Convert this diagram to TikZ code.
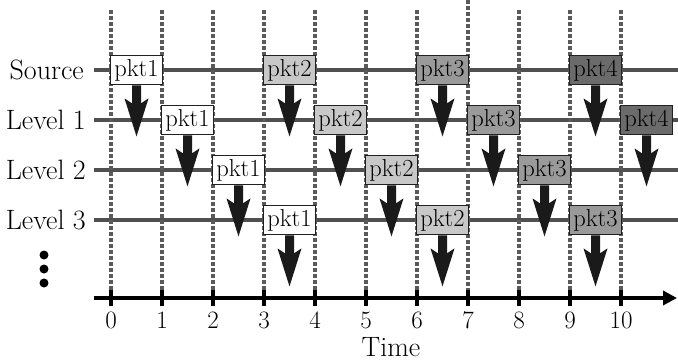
\documentclass[tikz,border=0pt]{standalone}
\usetikzlibrary{arrows.meta}
\definecolor{rowgray}{HTML}{505050}
\definecolor{dotgray}{HTML}{5A5A5A}
\definecolor{boxedge}{HTML}{202020}
\definecolor{fillA}{HTML}{FFFFFF}
\definecolor{fillB}{HTML}{C8C8C8}
\definecolor{fillC}{HTML}{9A9A9A}
\definecolor{fillD}{HTML}{6B6B6B}
\definecolor{arrowfill}{HTML}{1A1A1A}
\begin{document}
\begin{tikzpicture}[x=1pt,y=1pt,
  rowline/.style={draw=rowgray,line width=4pt},
  gridline/.style={draw=dotgray,line width=4pt,dash pattern=on 3.5pt off 2.5pt},
  pktbox/.style={draw=boxedge,line width=1.8pt,minimum width=52pt,minimum height=29pt,inner sep=0pt,font=\fontsize{24.5}{28}\selectfont},
  lbl/.style={font=\fontsize{28}{32}\selectfont,inner sep=0pt},
  ticklbl/.style={font=\fontsize{25}{29}\selectfont,inner sep=0pt},
  axisline/.style={draw=black,line width=4pt,-{Triangle[length=14pt,width=14pt]}},
  tickmark/.style={draw=black,line width=4pt},
  bigarrow/.style={fill=arrowfill}]
\useasboundingbox (0,0) rectangle (678,-364);
% row labels
\node[lbl,anchor=east] (lsrc) at (84,-70) {Source};
\node[lbl,anchor=east] (l1) at (86,-120) {Level 1};
\node[lbl,anchor=east] (l2) at (86,-170) {Level 2};
\node[lbl,anchor=east] (l3) at (86,-220) {Level 3};
% row lines
\foreach \r in {0,1,2,3}{
  \coordinate (rs\r) at (94,{-70-50*\r});
  \coordinate (re\r) at (678,{-70-50*\r});
  \draw[rowline] (rs\r) -- (re\r);
}
% dotted time lines
\foreach \t in {0,1,2,3,4,5,6,8,9,10}{
  \coordinate (gt\t) at ({111+51*\t},-10);
  \coordinate (gb\t) at ({111+51*\t},-292);
  \draw[gridline] (gt\t) -- (gb\t);
}
\coordinate (gt7) at (468,0);
\coordinate (gb7) at (468,-292);
\draw[gridline] (gt7) -- (gb7);
% axis
\coordinate (ax0) at (94,-298);
\coordinate (ax1) at (677,-298);
\draw[axisline] (ax0) -- (ax1);
\foreach \t in {0,...,10}{
  \coordinate (tt\t) at ({111+51*\t},-290);
  \coordinate (tb\t) at ({111+51*\t},-306);
  \draw[tickmark] (tt\t) -- (tb\t);
  \node[ticklbl] (tl\t) at ({111+51*\t},-320) {\t};
}
\node[lbl] (time) at (391,-347) {Time};
% vertical dots
\fill (44,-255) circle (4.5);
\fill (44,-269) circle (4.5);
\fill (44,-283) circle (4.5);
% packets and arrows
\foreach \n/\r/\t/\c/\l in {
  sA/0/0/fillA/pkt1, sB/0/3/fillB/pkt2, sC/0/6/fillC/pkt3, sD/0/9/fillD/pkt4,
  aA/1/1/fillA/pkt1, aB/1/4/fillB/pkt2, aC/1/7/fillC/pkt3, aD/1/10/fillD/pkt4,
  bA/2/2/fillA/pkt1, bB/2/5/fillB/pkt2, bC/2/8/fillC/pkt3,
  cA/3/3/fillA/pkt1, cB/3/6/fillB/pkt2, cC/3/9/fillC/pkt3}{
  \node[pktbox,fill=\c] (\n) at ({111+51*(\t+0.5)},{-70-50*\r}) {\l};
  \fill[bigarrow] (\n.south) ++(-4.5,0) -- ++(9,0) -- ++(0,-18) -- ++(7.5,5)
     -- ++(-12,-38) -- ++(-12,38) -- ++(7.5,-5) -- cycle;
}
\end{tikzpicture}
\end{document}
